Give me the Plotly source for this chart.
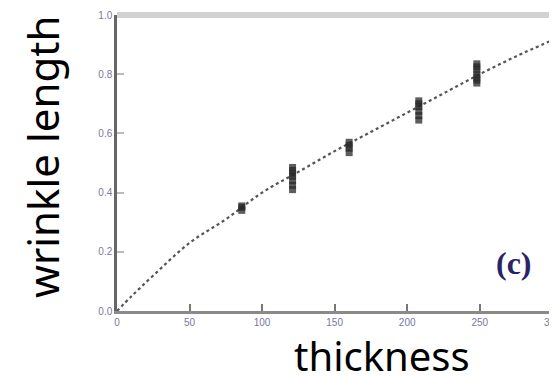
import plotly.graph_objects as go

# Fit curve
curve_x = [0, 10, 25, 50, 75, 100, 125, 150, 175, 200, 225, 250, 275, 300]
curve_y = [0.0, 0.05, 0.12, 0.23, 0.31, 0.40, 0.47, 0.54, 0.605, 0.67, 0.735, 0.80, 0.86, 0.915]

pts_x = [86, 86, 86,
         121, 121, 121, 121, 121, 121, 121,
         160, 160, 160, 160,
         208, 208, 208, 208, 208, 208,
         248, 248, 248, 248, 248, 248, 248]
pts_y = [0.34, 0.35, 0.355,
         0.41, 0.425, 0.44, 0.455, 0.465, 0.475, 0.485,
         0.535, 0.55, 0.56, 0.57,
         0.645, 0.66, 0.675, 0.69, 0.70, 0.71,
         0.77, 0.78, 0.79, 0.80, 0.815, 0.825, 0.835]

x_ticks = [0, 50, 100, 150, 200, 250, 300]
y_ticks = [0.0, 0.2, 0.4, 0.6, 0.8, 1.0]
x_title = "thickness"
y_title = "wrinkle length"
panel_label = "(c)"

fig = go.Figure()
fig.add_trace(go.Scatter(x=curve_x, y=curve_y, mode="lines",
                         line=dict(color="#555555", width=2.2, dash="dot", shape="spline"),
                         showlegend=False, hoverinfo="skip"))
fig.add_trace(go.Scatter(x=pts_x, y=pts_y, mode="markers",
                         marker=dict(symbol="square", size=7, color="rgba(40,40,40,0.75)",
                                     line=dict(width=0)),
                         showlegend=False))

fig.update_layout(
    width=549, height=368,
    margin=dict(l=109, r=4, t=7, b=65, autoexpand=False),
    paper_bgcolor="white", plot_bgcolor="white",
    font=dict(family="Liberation Sans"),
    xaxis=dict(range=[0, 300.5], tickvals=x_ticks, ticktext=[str(v) for v in x_ticks],
               ticks="inside", ticklen=7, tickcolor="#777777", tickwidth=1.5,
               showgrid=False, zeroline=False, showline=True, linecolor="#8a8a8a", linewidth=3,
               automargin=False, ticklabeloverflow="allow",
               tickfont=dict(size=10, color="#7a78a0")),
    yaxis=dict(range=[0, 1.0], tickvals=y_ticks, ticktext=["0.0", "0.2", "0.4", "0.6", "0.8", "1.0"],
               ticks="inside", ticklen=7, tickcolor="#bbbbbb", tickwidth=1.5,
               showgrid=False, zeroline=False, showline=True, linecolor="#666666", linewidth=2.5,
               automargin=False,
               tickfont=dict(size=10, color="#7a78a0")),
)
# top band and right border
fig.add_shape(type="line", xref="paper", yref="paper", x0=0, x1=1, y0=1, y1=1,
              line=dict(color="#d2d2d2", width=6))
fig.add_shape(type="line", xref="paper", yref="paper", x0=1, x1=1, y0=0, y1=1,
              line=dict(color="#8a8a8a", width=2))
fig.add_annotation(x=0.91, y=0.162, xref="paper", yref="paper", text="<b>" + panel_label + "</b>",
                   xanchor="center", yanchor="middle",
                   showarrow=False, font=dict(family="Liberation Serif", size=32, color="#2a2466"))
# axis titles
fig.add_annotation(x=0, y=0, xref="paper", yref="paper", text=x_title,
                   xanchor="center", yanchor="top", xshift=265, yshift=-15,
                   showarrow=False, font=dict(family="Noto Sans", size=40, color="black"))
fig.add_annotation(x=0, y=0.52, xref="paper", yref="paper", text=y_title, textangle=-90,
                   xanchor="center", yanchor="middle", xshift=-75,
                   showarrow=False, font=dict(family="Noto Sans", size=42, color="black"))

fig.write_html("out.html")
